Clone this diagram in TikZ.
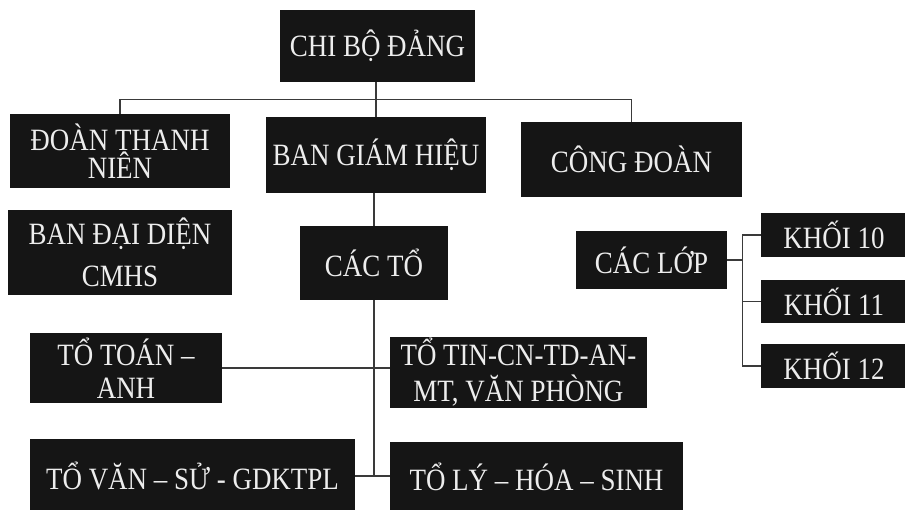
\documentclass[tikz,border=0pt]{standalone}
\usepackage{fontspec}
\usetikzlibrary{calc}
\newfontfamily\boxfont{Liberation Serif}[FakeStretch=0.87]
\definecolor{boxfill}{HTML}{151515}
\definecolor{boxtext}{HTML}{EDEDED}
\definecolor{linecol}{HTML}{3A3A3A}
\tikzset{
  orgbox/.style={draw=none, fill=boxfill, text=boxtext, inner sep=0pt, align=center,
    font=\boxfont\fontsize{31}{33}\selectfont},
  conn/.style={draw=linecol, line width=1.1pt}
}
\begin{document}
\begin{tikzpicture}[x=1pt,y=1pt]
\useasboundingbox (0,0) rectangle (905,-510);
\fill[white] (0,0) rectangle (905,-510);
\begin{scope}
\clip (0,0) rectangle (905,-510);
\node[orgbox, minimum width=195pt, minimum height=72pt] (chi) at (377.5,-46) {CHI BỘ ĐẢNG};
\node[orgbox, minimum width=220pt, minimum height=74pt] (dtn) at (120,-151) {ĐOÀN THANH\\[-5pt]NIÊN};
\node[orgbox, minimum width=220pt, minimum height=76pt] (bgh) at (376,-155) {BAN GIÁM HIỆU};
\node[orgbox, minimum width=221pt, minimum height=75pt] (cd) at (631.5,-159.5) {CÔNG ĐOÀN};
\node[orgbox, minimum width=224pt, minimum height=85pt] (bdd) at (120,-252.5) {BAN ĐẠI DIỆN\\[9pt]CMHS};
\node[orgbox, minimum width=148pt, minimum height=74pt] (cacto) at (374,-263) {CÁC TỔ};
\node[orgbox, minimum width=151pt, minimum height=58pt] (caclop) at (651.5,-260) {CÁC LỚP};
\node[orgbox, minimum width=146pt, minimum height=44pt] (k10) at (834,-235) {KHỐI 10};
\node[orgbox, minimum width=146pt, minimum height=43pt] (k11) at (834,-301.5) {KHỐI 11};
\node[orgbox, minimum width=146pt, minimum height=44pt] (k12) at (834,-366) {KHỐI 12};
\node[orgbox, minimum width=192pt, minimum height=70pt] (toan) at (126,-368) {TỔ TOÁN –\\ANH};
\node[orgbox, minimum width=257pt, minimum height=71pt] (tin) at (518.5,-372.5) {TỔ TIN-CN-TD-AN-\\[3pt]MT, VĂN PHÒNG};
\node[orgbox, minimum width=325pt, minimum height=74pt] (van) at (192.5,-476) {TỔ VĂN – SỬ - GDKTPL};
\node[orgbox, minimum width=293pt, minimum height=70pt] (ly) at (536.5,-477) {TỔ LÝ – HÓA – SINH};
\end{scope}
% connectors
\coordinate (bus) at ($(chi.south)+(0,-17)$);
\draw[conn] (chi.south -| bgh.north) -- (bgh.north);
\draw[conn] (dtn.north) -- (dtn.north |- bus) -- (cd.north |- bus) -- (cd.north);
\draw[conn] (bgh.south -| cacto.north) -- (cacto.north);
\draw[conn] (cacto.south) -- (cacto.south |- van.east);
\draw[conn] (toan.east) -- (toan.east -| tin.west);
\draw[conn] (van.east) -- (van.east -| ly.west);
\draw[conn] (k10.west) -- ++(-18,0) coordinate (b1) |- (k12.west);
\draw[conn] (k11.west) -- (k11.west -| b1);
\draw[conn] (caclop.east) -- (caclop.east -| b1);
\end{tikzpicture}
\end{document}
